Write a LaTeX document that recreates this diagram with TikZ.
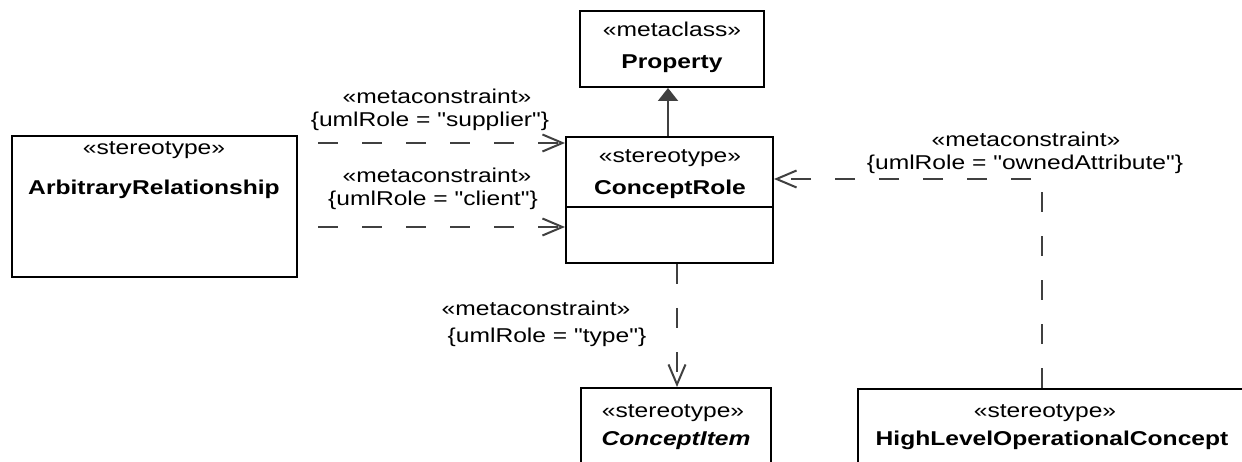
\documentclass[tikz,border=0pt]{standalone}
\usepackage{fontspec}
\setmainfont{Liberation Sans}[Ligatures=TeXOff]
\usetikzlibrary{arrows.meta}
\definecolor{conn}{HTML}{404040}
\begin{document}
\begin{tikzpicture}[x=1pt,y=-1pt,
  box/.style={draw=black, line width=2pt, fill=white, inner sep=0pt},
  st/.style={anchor=base, inner sep=0pt, xscale=1.23, font=\fontsize{20}{24}\selectfont},
  nm/.style={anchor=base, inner sep=0pt, xscale=1.23, font=\fontsize{20}{24}\selectfont\bfseries},
  lbl/.style={anchor=base, inner sep=0pt, xscale=1.23, font=\fontsize{20}{24}\selectfont},
  dep/.style={draw=conn, line width=2pt, dash pattern=on 20pt off 24pt, -{Straight Barb[length=20pt,width=17pt]}},
  gen/.style={draw=conn, line width=2pt, -{Triangle[length=13pt,width=20pt,fill=conn]}}]
\useasboundingbox (0,0) rectangle (1242,462);
\clip (0,0) rectangle (1242,462);
% boxes
\node[box, minimum width=184pt, minimum height=76pt] (prop) at (672,49) {};
\node[box, minimum width=285pt, minimum height=141pt] (ar) at (154.5,206.5) {};
\node[box, minimum width=207pt, minimum height=126pt] (cr) at (669.5,200) {};
\node[box, minimum width=190pt, minimum height=92pt] (ci) at (676,434) {};
\node[box, minimum width=400pt, minimum height=92pt] (hl) at (1058,435) {};
\draw[line width=2pt] (cr.west |- 0,207) coordinate (crdl) -- (cr.east |- 0,207) coordinate (crdr);
% texts
\node[st] (propst) at (672,37) {«metaclass»};
\node[nm] (propnm) at (672,69) {Property};
\node[st] (arst) at (154,155) {«stereotype»};
\node[nm] (arnm) at (154,195) {ArbitraryRelationship};
\node[st] (crst) at (670,163) {«stereotype»};
\node[nm] (crnm) at (670,195) {ConceptRole};
\node[st] (cist) at (673,417) {«stereotype»};
\node[nm, font=\fontsize{20}{24}\selectfont\bfseries\itshape] (cinm) at (676,445) {ConceptItem};
\node[st] (hlst) at (1045,417) {«stereotype»};
\node[nm] (hlnm) at (1052,445) {HighLevelOperationalConcept};
% connector levels
\coordinate (ysup) at (0,143);
\coordinate (ycli) at (0,227);
\coordinate (yown) at (0,179);
\coordinate (xown) at (1042,0);
\coordinate (xtype) at (677,0);
% connectors
\draw[gen] (cr.north -| 668,0) -- (prop.south -| 668,0);
\draw[dep, shorten <=20pt] (ar.east |- ysup) -- (cr.west |- ysup);
\draw[dep, shorten <=20pt] (ar.east |- ycli) -- (cr.west |- ycli);
\draw[dep] (cr.south -| xtype) -- (ci.north -| xtype);
\draw[dep] (hl.north -| xown) |- (cr.east |- yown);
% labels
\node[lbl] (l1a) at (437,104) {«metaconstraint»};
\node[lbl] (l1b) at (430,127) {\{umlRole = "supplier"\}};
\node[lbl] (l2a) at (437,183) {«metaconstraint»};
\node[lbl] (l2b) at (433,206) {\{umlRole = "client"\}};
\node[lbl] (l3a) at (1026,147) {«metaconstraint»};
\node[lbl] (l3b) at (1025,170) {\{umlRole = "ownedAttribute"\}};
\node[lbl] (l4a) at (536,316) {«metaconstraint»};
\node[lbl] (l4b) at (547,342) {\{umlRole = "type"\}};
\end{tikzpicture}
\end{document}
